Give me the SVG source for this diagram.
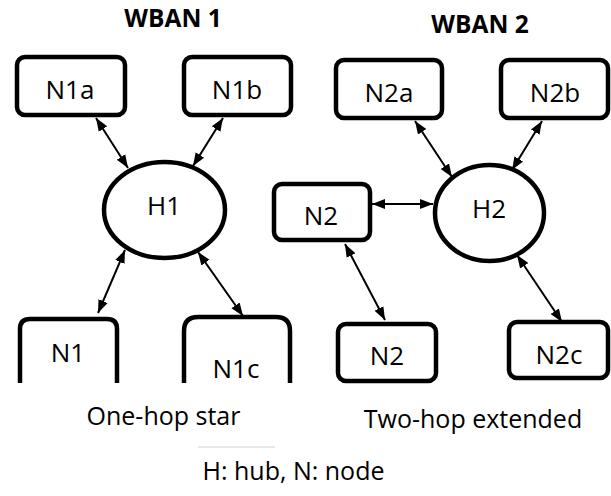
<svg xmlns="http://www.w3.org/2000/svg" width="611" height="496" viewBox="0 0 611 496">
<style>
.box{fill:#fff;stroke:#000;stroke-width:4.5}
.open{fill:none;stroke:#000;stroke-width:4.5}
.lbl{font-family:"Open Sans","DejaVu Sans",sans-serif;font-size:25px;fill:#000;text-anchor:middle}
.node{font-size:26px}
.ttl{font-family:"Open Sans","DejaVu Sans",sans-serif;font-size:24.5px;font-weight:bold;fill:#000;text-anchor:middle}
.con{stroke:#000;stroke-width:2;fill:none;marker-start:url(#ah);marker-end:url(#ah)}
</style>
<defs>
<marker id="ah" markerUnits="userSpaceOnUse" markerWidth="14" markerHeight="12" viewBox="0 0 14 12" refX="13" refY="6" orient="auto-start-reverse">
<path d="M0,1 L13,6 L0,11 z" fill="#000"/>
</marker>
</defs>
<rect width="611" height="496" fill="#fff"/>
<text class="ttl" x="173" y="27">WBAN 1</text>
<text class="ttl" x="480" y="33">WBAN 2</text>
<g id="N1a"><rect class="box" x="17" y="57" width="108" height="58" rx="8"/><text class="lbl node" x="70" y="99">N1a</text></g>
<g id="N1b"><rect class="box" x="184" y="57" width="107" height="58" rx="8"/><text class="lbl node" x="237" y="99">N1b</text></g>
<g id="H1"><ellipse class="box" cx="164.5" cy="210" rx="60.5" ry="48"/><text class="lbl node" x="164" y="215">H1</text></g>
<g id="N1"><path class="open" d="M20,383 V329 Q20,319 30,319 H107 Q117,319 117,329 V383"/><text class="lbl node" x="68" y="362">N1</text></g>
<g id="N1c"><path class="open" d="M184,383 V331 Q184,317 198,317 H276 Q290,317 290,331 V383"/><text class="lbl node" x="236" y="378">N1c</text></g>
<g id="N2a"><rect class="box" x="336" y="60" width="106" height="58" rx="8"/><text class="lbl node" x="389" y="102">N2a</text></g>
<g id="N2b"><rect class="box" x="501" y="60" width="107" height="58" rx="8"/><text class="lbl node" x="555" y="102">N2b</text></g>
<g id="H2"><ellipse class="box" cx="489.5" cy="213" rx="54.5" ry="48"/><text class="lbl node" x="489" y="218">H2</text></g>
<g id="N2-relay"><rect class="box" x="274" y="184" width="96" height="56" rx="8"/><text class="lbl node" x="321" y="225">N2</text></g>
<g id="N2-leaf"><rect class="box" x="338" y="324" width="98" height="57" rx="8"/><text class="lbl node" x="387" y="365">N2</text></g>
<g id="N2c"><rect class="box" x="509" y="322" width="99" height="56" rx="8"/><text class="lbl node" x="559" y="364">N2c</text></g>
<g id="connectors">
<line class="con" x1="96" y1="118" x2="128" y2="168"/>
<line class="con" x1="223" y1="118" x2="193" y2="166"/>
<line class="con" x1="125" y1="250" x2="98" y2="313"/>
<line class="con" x1="198" y1="252" x2="243" y2="316"/>
<line class="con" x1="372" y1="204" x2="433" y2="204"/>
<line class="con" x1="415" y1="121" x2="452" y2="177"/>
<line class="con" x1="542" y1="121" x2="512" y2="170"/>
<line class="con" x1="345" y1="244" x2="385" y2="320"/>
<line class="con" x1="517" y1="255" x2="562" y2="322"/>
</g>
<text class="lbl" x="163.5" y="425">One-hop star</text>
<text class="lbl" x="473" y="428">Two-hop extended</text>
<line x1="198" y1="447" x2="275" y2="447" stroke="#d0d0d0" stroke-width="1"/>
<text class="lbl" x="293.5" y="480">H: hub, N: node</text>
</svg>
